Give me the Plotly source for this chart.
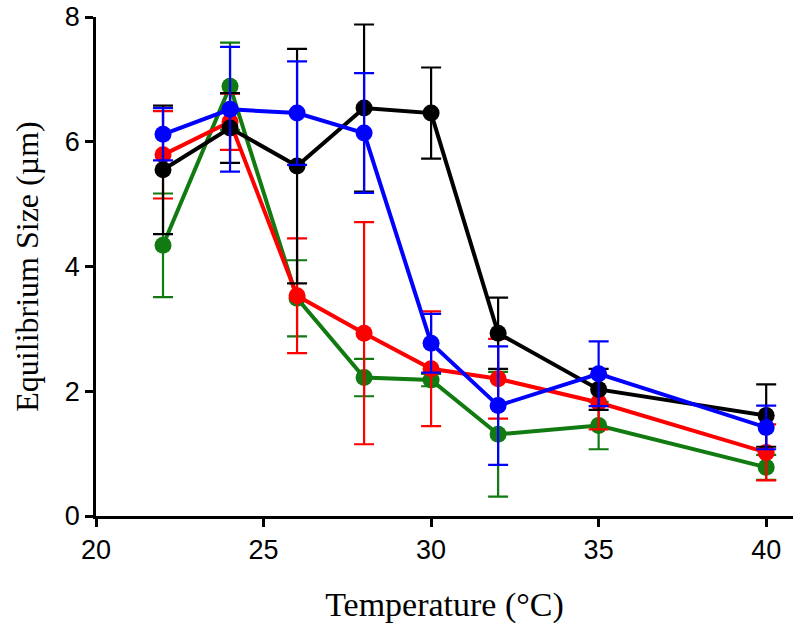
import plotly.graph_objects as go

temps = [22, 24, 26, 28, 30, 32, 35, 40]

black_y = [5.55, 6.22, 5.61, 6.54, 6.46, 2.93, 2.03, 1.61]
black_err = [1.03, 0.56, 1.88, 1.34, 0.73, 0.57, 0.33, 0.50]

red_y = [5.79, 6.32, 3.53, 2.93, 2.36, 2.20, 1.82, 1.02]
red_err = [0.70, 0.45, 0.92, 1.78, 0.92, 0.64, 0.43, 0.45]

green_y = [4.34, 6.89, 3.49, 2.22, 2.18, 1.31, 1.45, 0.78]
green_err = [0.83, 0.70, 0.61, 0.30, 0.10, 1.00, 0.38, 0.20]

blue_y = [6.12, 6.52, 6.46, 6.14, 2.77, 1.77, 2.28, 1.42]
blue_err = [0.42, 1.00, 0.83, 0.96, 0.47, 0.95, 0.52, 0.35]

x_ticks = [20, 25, 30, 35, 40]
y_ticks = [0, 2, 4, 6, 8]

series = [
    ("green", green_y, green_err, "#117a11"),
    ("red", red_y, red_err, "#ff0000"),
    ("black", black_y, black_err, "#000000"),
    ("blue", blue_y, blue_err, "#0000ff"),
]

fig = go.Figure()
for name, ys, errs, col in series:
    fig.add_trace(go.Scatter(
        x=temps, y=ys, name=name, mode="lines+markers",
        line=dict(color=col, width=4),
        marker=dict(color=col, size=17),
        error_y=dict(type="data", array=errs, visible=True,
                     color=col, thickness=2.2, width=10),
        showlegend=False,
    ))

fig.update_layout(
    width=800, height=636,
    margin=dict(l=96, r=7, t=17, b=120, autoexpand=False),
    paper_bgcolor="white", plot_bgcolor="white",
    xaxis=dict(
        range=[20, 40.8], tickvals=x_ticks, automargin=False,
        showline=True, linecolor="black", linewidth=2.5,
        ticks="outside", ticklen=8, tickwidth=2.5, tickcolor="black",
        showgrid=False, zeroline=False, ticklabeloverflow="allow",
        tickfont=dict(family="Liberation Sans, Arial", size=27, color="black"),
        title=dict(text="Temperature (°C)", standoff=29,
                   font=dict(family="Liberation Serif, Times New Roman", size=34, color="black")),
    ),
    yaxis=dict(
        range=[0, 8], tickvals=y_ticks, automargin=False,
        showline=True, linecolor="black", linewidth=2.5,
        ticks="outside", ticklen=8, tickwidth=2.5, tickcolor="black",
        showgrid=False, zeroline=False, ticklabeloverflow="allow",
        tickfont=dict(family="Liberation Sans, Arial", size=27, color="black"),
        title=dict(text="Equilibrium Size (µm)", standoff=17,
                   font=dict(family="Liberation Serif, Times New Roman", size=32, color="black")),
    ),
)

fig.write_html("out.html",
               config={"displayModeBar": False},
               post_script="document.body.style.margin='0';document.body.style.overflow='hidden';")
